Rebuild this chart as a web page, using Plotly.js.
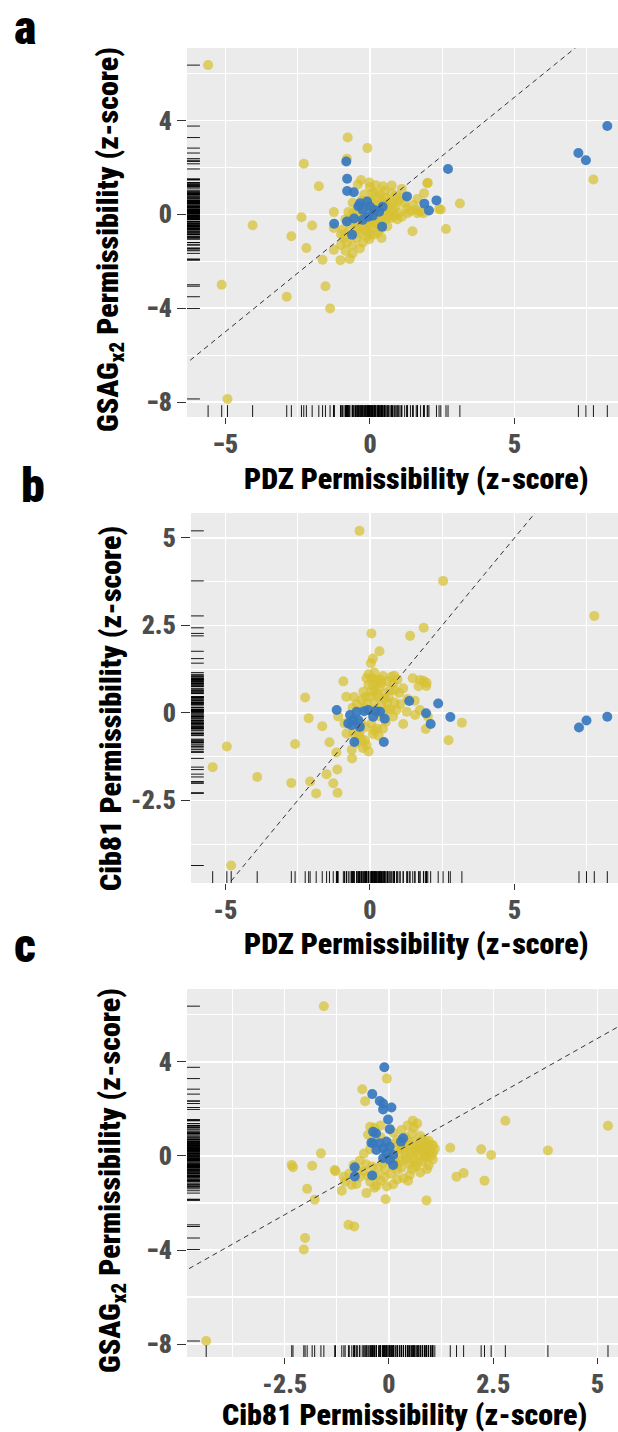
<!DOCTYPE html>
<html><head><meta charset="utf-8">
<script src="https://cdn.plot.ly/plotly-3.0.1.min.js"></script>
<style>
html,body{margin:0;padding:0;background:#fff}
#chart{width:618px;height:1432px}
svg text{font-stretch:condensed;}
</style>
</head><body><div id="chart"></div>
<script>
// ---------- Panel a: PDZ (x) vs GSAGx2 (y) ----------
const aYellow = [
 [-5.60,6.37],[-4.93,-7.87],[-5.13,-3.00],[-4.06,-0.46],[-2.88,-3.51],[-2.72,-0.93],[-2.29,2.16],
 [-2.37,-0.12],[-2.20,-1.43],[-2.00,-0.47],[-1.77,1.20],[-1.64,-1.93],[-1.54,-3.06],[-1.38,-4.01],
 [-1.25,0.10],[-1.02,-1.95],[-0.70,-1.90],[-0.77,3.28],[-0.09,2.83],[7.73,1.49],[3.11,0.47],
 [2.63,-0.62],[2.45,0.21],[2.00,1.35],[1.47,-0.72],[1.87,0.90],[-0.80,2.38],[-1.25,-1.51],
 [-1.00,-1.30],[-0.60,-1.66],[-0.60,-1.30],[-0.90,-1.00],[-1.25,-0.58],[-0.31,1.47],[-0.02,1.36],
 [0.00,1.16],[0.09,0.90],[-0.42,1.28],[0.15,0.95],[0.75,1.24],[1.10,1.09],[0.75,0.90],[1.98,1.33],
 [1.64,0.66],[1.27,0.26],[1.64,0.05],[1.85,0.05],[2.39,0.22],[1.07,0.71],[0.78,0.48],[1.40,0.15],
 [1.60,0.20],[1.75,0.12],[0.60,0.30],[0.70,0.10],[0.90,0.35],[0.85,-0.05],[0.95,-0.20],[0.75,-0.15],
 [0.27,-0.78],[0.27,-0.38],[-0.02,-1.06],[-0.25,-1.20],[-0.20,-0.45],[0.05,-0.55],[-0.10,-0.70],
 [0.10,-0.40],[-0.50,-0.50],[-0.45,-0.62],[-0.95,-0.64],[-1.00,-0.85],[-0.60,0.05],[-0.45,0.20],
 [-0.50,0.00],[-0.75,0.10],[-0.20,0.85],[0.40,0.60],[0.50,1.00],[0.30,0.20],[0.20,-0.10],
 [0.00,-0.20],[-0.30,-0.10],[0.45,-0.30],[0.60,-0.50],[-0.15,0.30],[0.10,0.50],[-0.35,-0.80],
 [-0.10,-0.95],[0.15,-0.85],[-0.70,-0.35],[-0.85,-0.20],[1.20,0.50],[1.10,-0.10],[0.35,0.85],
 [0.55,0.70],[-0.05,0.05],[0.25,0.40],[-0.40,-0.30],[0.65,-0.05],[1.00,0.60],[0.40,-0.60],
 [-0.15,-0.30],[0.05,0.20],
 [0.30,0.05],[0.50,0.15],[0.15,0.10],[-0.10,0.15],[0.35,-0.15],[0.55,-0.20],[0.20,-0.30],[-0.05,-0.45],
 [0.35,-0.50],[0.80,0.20],[1.00,0.05],[1.30,0.05],[0.65,0.55],[0.90,0.80],[0.30,0.70],[-0.30,0.60],
 [-0.60,0.50],[0.00,0.60],[0.50,0.45],[1.50,0.40],[-0.20,-0.65],[0.00,-0.85],[-0.45,-1.00],
 [-0.75,-0.75],[-0.80,-1.20],[-0.35,-1.45],[0.40,-1.00],[-0.85,-1.55],[0.20,1.25],[0.45,1.20]
];
const aBlue = [
 [8.21,3.77],[7.21,2.62],[7.47,2.31],[2.70,1.94],[-0.82,2.26],[-0.79,1.52],[-0.79,1.00],[-0.56,0.95],
 [2.30,0.60],[1.28,0.77],[1.88,0.46],[2.04,0.17],[-1.24,-0.40],[-0.80,-0.30],[-0.55,-0.17],[0.42,-0.52],
 [-0.62,-0.87],[-0.34,0.48],[-0.10,0.55],[0.00,0.33],[-0.25,0.19],[0.15,0.19],[0.32,0.12],[0.44,0.33],
 [-0.06,-0.10],[-0.25,-0.23],[-0.40,0.35],[0.10,-0.05]
];
// ---------- Panel b: PDZ (x) vs Cib81 (y) ----------
const bYellow = [
 [-0.36,5.20],[2.53,3.77],[7.76,2.77],[0.05,2.27],[1.86,2.43],[1.39,2.20],[0.33,1.76],[0.10,1.55],
 [0.03,1.42],[-0.92,0.90],[-0.82,0.46],[-2.24,0.44],[-2.12,-0.15],[-1.65,-0.38],[-1.40,-0.84],
 [-2.59,-0.89],[-4.95,-0.96],[-5.44,-1.55],[-3.90,-1.83],[-2.72,-2.00],[-2.07,-1.96],[-1.86,-2.30],
 [-1.50,-1.75],[-1.27,-2.01],[-1.12,-2.28],[-1.13,-1.62],[-1.16,-1.13],[-0.63,-1.05],[-0.62,-1.30],
 [-4.80,-4.36],[1.48,0.99],[1.95,0.77],[1.85,0.92],[1.68,0.76],[0.84,1.06],[3.18,-0.28],[2.72,-0.78],
 [1.93,-0.46],[1.15,-0.32],[2.00,-0.10],
 [-0.12,0.99],[0.06,0.99],[0.23,0.84],[0.75,1.03],[0.81,0.84],[0.69,0.65],[1.01,0.57],[-0.23,0.60],
 [-0.29,0.37],[0.06,0.60],[0.35,0.75],[0.52,0.56],[1.73,0.94],[1.96,0.86],[0.92,0.08],[1.27,0.03],
 [1.56,-0.06],[1.73,0.08],[-0.58,-0.59],[-0.40,-0.63],[-0.17,-0.78],[-0.12,-0.92],[-0.81,-0.59],
 [-1.10,-0.10],[-0.88,-0.30],[0.15,0.30],[0.40,0.20],[0.60,0.30],[0.30,0.45],[-0.10,0.25],[0.20,0.10],
 [-0.20,0.15],[0.05,-0.30],[-0.30,-0.30],[0.25,-0.45],[0.10,-0.60],[0.45,0.00],[0.70,0.10],[0.55,-0.25],
 [-0.45,0.25],[-0.60,0.15],[0.00,0.45],[0.15,1.15],[0.45,1.05],[-0.05,0.80],[0.85,0.30],[1.05,0.25],
 [-0.25,-1.00],[-0.45,-0.85],[0.30,-0.65],[0.10,0.80],[0.35,0.95],
 [0.25,0.55],[0.50,0.40],[0.15,0.65],[-0.15,0.45],[0.65,0.45],[0.85,0.65],[0.40,0.85],[0.60,0.90],
 [0.20,0.95],[-0.05,1.10],[0.95,0.95],[1.15,0.70],[0.35,-0.10],[0.60,0.10],[-0.15,-0.40],[0.15,-0.50],
 [-0.35,-0.55],[-0.05,-1.10],[-0.30,-0.75],[0.45,-0.45],[1.30,0.40],[1.55,0.35],[-0.55,0.45],[0.80,-0.10]
];
const bBlue = [
 [8.21,-0.11],[7.23,-0.42],[7.49,-0.22],[2.78,-0.12],[2.36,0.27],[2.10,-0.32],[1.94,-0.01],[1.36,0.34],
 [0.51,-0.17],[0.48,-0.83],[-0.54,-0.83],[-1.15,0.08],[-0.69,-0.06],[-0.46,0.03],[-0.63,-0.35],
 [-0.35,-0.40],[-0.06,0.08],[0.11,-0.11],[0.35,0.03],[-0.58,-0.21],[-0.40,-0.21],[-0.75,-0.30],
 [-0.20,0.05],[0.20,0.05]
];
// ---------- Panel c: Cib81 (x) vs GSAGx2 (y) ----------
const cYellow = [
 [-1.56,6.37],[-4.38,-7.87],[-0.05,3.29],[-0.64,2.84],[-0.57,2.33],[5.25,1.28],[2.79,1.50],[3.81,0.23],
 [1.47,0.35],[2.21,0.28],[2.45,0.04],[1.62,-0.88],[1.79,-0.73],[2.29,-1.05],[0.90,-1.89],[-0.08,-1.84],
 [0.46,-1.05],[0.91,-0.56],[0.57,1.50],[0.68,1.38],[1.03,0.47],[0.88,0.61],[1.05,0.11],[0.90,-0.02],
 [-1.63,0.11],[-2.33,-0.38],[-2.30,-0.48],[-1.84,-0.42],[-1.30,-0.60],[-1.28,-0.65],[-1.96,-1.40],
 [-1.78,-1.86],[-1.13,-1.48],[-1.08,-0.88],[-0.89,-1.23],[-0.78,-1.19],[-0.54,-1.58],[-0.30,-1.27],
 [-0.97,-2.93],[-0.83,-3.00],[-2.01,-3.49],[-2.04,-3.98],[-0.45,1.24],[-0.35,0.96],
 [0.45,0.60],[0.60,0.45],[0.75,0.30],[0.55,0.20],[0.70,0.10],[0.85,0.25],[0.95,0.35],[1.00,0.20],
 [0.40,0.00],[0.60,-0.10],[0.80,-0.20],[0.50,-0.35],[0.30,-0.50],[0.20,-0.60],[0.65,-0.45],[0.35,0.35],
 [0.25,0.15],[0.15,-0.20],[0.30,-0.20],[0.10,-0.45],[-0.10,-0.60],[-0.25,-0.50],[-0.40,-0.45],
 [-0.55,-0.35],[-0.60,-0.65],[-0.50,-0.85],[-0.30,-0.85],[-0.10,-0.90],[0.05,-0.75],[0.20,-1.00],
 [-0.20,-1.05],[-0.45,-1.10],[-0.70,-0.90],[-0.95,-0.75],[-1.05,-1.10],[-0.20,0.80],[-0.35,1.20],
 [-0.50,0.90],[-0.20,1.30],[0.10,1.00],[0.30,1.10],[0.20,0.70],[0.05,0.50],[-0.45,0.30],[-0.60,0.10],
 [-0.70,-0.20],[0.00,-0.05],[0.40,0.80],[0.55,0.95],[0.80,0.70],[1.10,0.30],[0.95,-0.40],[0.75,-0.70],
 [0.50,-0.80],[0.35,-0.95],[-0.05,-1.30],[0.10,-1.20],[-0.35,-1.35],[0.60,1.20],[0.45,1.30],
 [-0.75,-0.60],[-0.85,-0.40],[1.05,-0.15],[0.90,0.50],
 [0.30,0.30],[0.45,0.45],[0.60,0.60],[0.70,0.40],[0.80,0.45],[0.50,0.10],[0.65,0.20],[0.85,0.05],
 [0.40,-0.15],[0.20,-0.35],[0.55,-0.55],[0.25,0.55],[0.75,0.85],[0.95,0.65],[1.00,0.00],[0.15,0.25],
 [0.35,0.70],[-0.15,-0.30],[-0.05,-0.20],[0.10,-0.10],[0.70,-0.30],[0.85,-0.05],[1.05,0.45],[0.60,-0.25]
];
const cBlue = [
 [-0.11,3.77],[-0.40,2.63],[-0.22,2.34],[-0.14,2.23],[-0.14,1.98],[0.06,2.06],[-0.02,1.55],[0.02,1.14],
 [-0.38,1.03],[-0.31,0.96],[0.34,0.75],[0.29,0.61],[-0.42,0.56],[-0.82,-0.48],[-0.82,-0.87],[-0.40,-0.83],
 [0.10,-0.38],[-0.06,0.61],[0.02,0.39],[-0.14,0.33],[-0.30,0.25],[-0.06,0.11],[0.10,0.04],[-0.14,-0.10],
 [0.02,-0.17],[-0.22,0.54],[-0.38,0.54]
];
// ---------- axis labels / ticks ----------
const xTitleA = 'PDZ Permissibility (z-score)';
const yTitleA = 'GSAG<sub>x2</sub> Permissibility (z-score)';
const xTitleB = 'PDZ Permissibility (z-score)';
const yTitleB = 'Cib81 Permissibility (z-score)';
const xTitleC = 'Cib81 Permissibility (z-score)';
const yTitleC = 'GSAG<sub>x2</sub> Permissibility (z-score)';
const panelLetters = ['a','b','c'];
const aXTickVals = [-5,0,5], aXTickText = ['\u22125','0','5'], aXMinor = [-2.5,2.5,7.5];
const aYTickVals = [4,0,-4,-8], aYTickText = ['4','0','\u22124','\u22128'], aYMinor = [6,2,-2,-6];
const bXTickVals = [-5,0,5], bXTickText = ['-5','0','5'], bXMinor = [-2.5,2.5,7.5];
const bYTickVals = [5,2.5,0,-2.5], bYTickText = ['5','2.5','0','-2.5'], bYMinor = [3.75,1.25,-1.25,-3.75];
const cXTickVals = [-2.5,0,2.5,5], cXTickText = ['-2.5','0','2.5','5'], cXMinor = [-3.75,-1.25,1.25,3.75];
const cYTickVals = [4,0,-4,-8], cYTickText = ['4','0','\u22124','\u22128'], cYMinor = [6,2,-2,-6];

// ---------- layout geometry ----------
const W = 618, H = 1432;
const FONT = 'Roboto, "DejaVu Sans", sans-serif';
const WEIGHT = 900;
const YELLOW = 'rgba(215,192,50,0.72)';
const BLUE = 'rgba(55,120,190,0.92)';

// size the text so the axis title spans about the same width as in the figure
function measureWidth(text, size) {
  const s = document.createElement('span');
  s.style.cssText = 'position:absolute;visibility:hidden;white-space:nowrap;font-weight:' + WEIGHT + ';' +
    'font-stretch:condensed;font-family:' + FONT + ';font-size:' + size + 'px';
  s.textContent = text;
  document.body.appendChild(s);
  const w = s.getBoundingClientRect().width;
  s.remove();
  return w;
}
const titleSize = Math.min(30, Math.max(22, 100 * 352 / measureWidth('PDZ Permissibility (z-score)', 100)));
const tickSize = titleSize * 0.86;
const letterSize = titleSize * 1.6;

const panels = [
 {yellow:aYellow, blue:aBlue, xr:[-6.33,8.58], yr:[-8.64,7.1], px:[187,618], py:[48,417],
  xt:[aXTickVals,aXTickText,aXMinor], yt:[aYTickVals,aYTickText,aYMinor],
  xTitle:xTitleA, yTitle:yTitleA, xTitlePos:[416,479], yTitlePos:[110,240], letterPos:[25,28]},
 {yellow:bYellow, blue:bBlue, xr:[-6.19,8.58], yr:[-4.86,5.71], px:[191,618], py:[513,883],
  xt:[bXTickVals,bXTickText,bXMinor], yt:[bYTickVals,bYTickText,bYMinor],
  xTitle:xTitleB, yTitle:yTitleB, xTitlePos:[416,943], yTitlePos:[111,709], letterPos:[33,485]},
 {yellow:cYellow, blue:cBlue, xr:[-4.84,5.49], yr:[-8.55,7.1], px:[187,618], py:[989,1357],
  xt:[cXTickVals,cXTickText,cXMinor], yt:[cYTickVals,cYTickText,cYMinor],
  xTitle:xTitleC, yTitle:yTitleC, xTitlePos:[404,1414], yTitlePos:[111,1181], letterPos:[25,945]}
];

const traces = [], shapes = [], annotations = [];
const layout = {
  width: W, height: H, margin:{l:0,r:0,t:0,b:0}, showlegend:false,
  paper_bgcolor:'#ffffff', plot_bgcolor:'#EBEBEB', font:{family:FONT}
};
const tickFont = {family:FONT, size:tickSize, color:'#4D4D4D', weight:WEIGHT};
const titleFont = {family:FONT, size:titleSize, color:'#000000', weight:WEIGHT};

panels.forEach((p, i) => {
  const sfx = i === 0 ? '' : String(i + 1);
  const xa = 'x' + sfx, ya = 'y' + sfx;
  const mk = (pts, color) => ({
    type:'scatter', mode:'markers', xaxis:xa, yaxis:ya,
    x: pts.map(d => d[0]), y: pts.map(d => d[1]),
    marker:{size:10, color:color, line:{width:0}}, hoverinfo:'skip', cliponaxis:true
  });
  traces.push(mk(p.yellow, YELLOW));
  traces.push(mk(p.blue, BLUE));
  const lo = Math.min(p.xr[0], p.yr[0]), hi = Math.max(p.xr[1], p.yr[1]);
  traces.push({type:'scatter', mode:'lines', xaxis:xa, yaxis:ya, x:[lo,hi], y:[lo,hi],
    line:{color:'#333333', width:1, dash:'5px,4px'}, hoverinfo:'skip'});

  layout['xaxis' + sfx] = {
    domain:[p.px[0]/W, p.px[1]/W], range:p.xr, anchor:ya, fixedrange:true,
    tickmode:'array', tickvals:p.xt[0], ticktext:p.xt[1], ticks:'outside', ticklen:6, tickwidth:1,
    ticklabelstandoff:-2,
    tickcolor:'#333333', tickfont:tickFont, showline:false, zeroline:false,
    showgrid:true, gridcolor:'#FFFFFF', gridwidth:1.5,
    minor:{tickmode:'array', tickvals:p.xt[2], showgrid:true, gridcolor:'#FFFFFF', gridwidth:1.1, ticks:''}
  };
  layout['yaxis' + sfx] = {
    domain:[1 - p.py[1]/H, 1 - p.py[0]/H], range:p.yr, anchor:xa, fixedrange:true,
    tickmode:'array', tickvals:p.yt[0], ticktext:p.yt[1], ticks:'outside', ticklen:9, tickwidth:1,
    tickcolor:'#333333', tickfont:tickFont, showline:false, zeroline:false,
    showgrid:true, gridcolor:'#FFFFFF', gridwidth:1.5,
    minor:{tickmode:'array', tickvals:p.yt[2], showgrid:true, gridcolor:'#FFFFFF', gridwidth:1.1, ticks:''}
  };

  // rugs drawn from each panel's own values
  const all = p.yellow.concat(p.blue);
  all.forEach(d => {
    shapes.push({type:'line', xref:xa + ' domain', yref:ya, x0:0, x1:0.03, y0:d[1], y1:d[1],
      line:{color:'rgba(0,0,0,0.9)', width:1}, layer:'above'});
    shapes.push({type:'line', xref:xa, yref:ya + ' domain', x0:d[0], x1:d[0], y0:0, y1:0.032,
      line:{color:'rgba(0,0,0,0.9)', width:1}, layer:'above'});
  });

  annotations.push({xref:'paper', yref:'paper', x:p.xTitlePos[0]/W, y:1 - p.xTitlePos[1]/H,
    xanchor:'center', yanchor:'middle', text:p.xTitle, showarrow:false, font:titleFont});
  annotations.push({xref:'paper', yref:'paper', x:p.yTitlePos[0]/W, y:1 - p.yTitlePos[1]/H,
    xanchor:'center', yanchor:'middle', text:p.yTitle, textangle:-90, showarrow:false, font:titleFont});
  annotations.push({xref:'paper', yref:'paper', x:p.letterPos[0]/W, y:1 - p.letterPos[1]/H,
    xanchor:'center', yanchor:'middle', text:panelLetters[i], showarrow:false,
    font:{family:FONT, size:letterSize, color:'#000000', weight:WEIGHT}});
});

layout.shapes = shapes;
layout.annotations = annotations;
Plotly.newPlot('chart', traces, layout, {displayModeBar:false, staticPlot:true});
</script>
</body></html>
